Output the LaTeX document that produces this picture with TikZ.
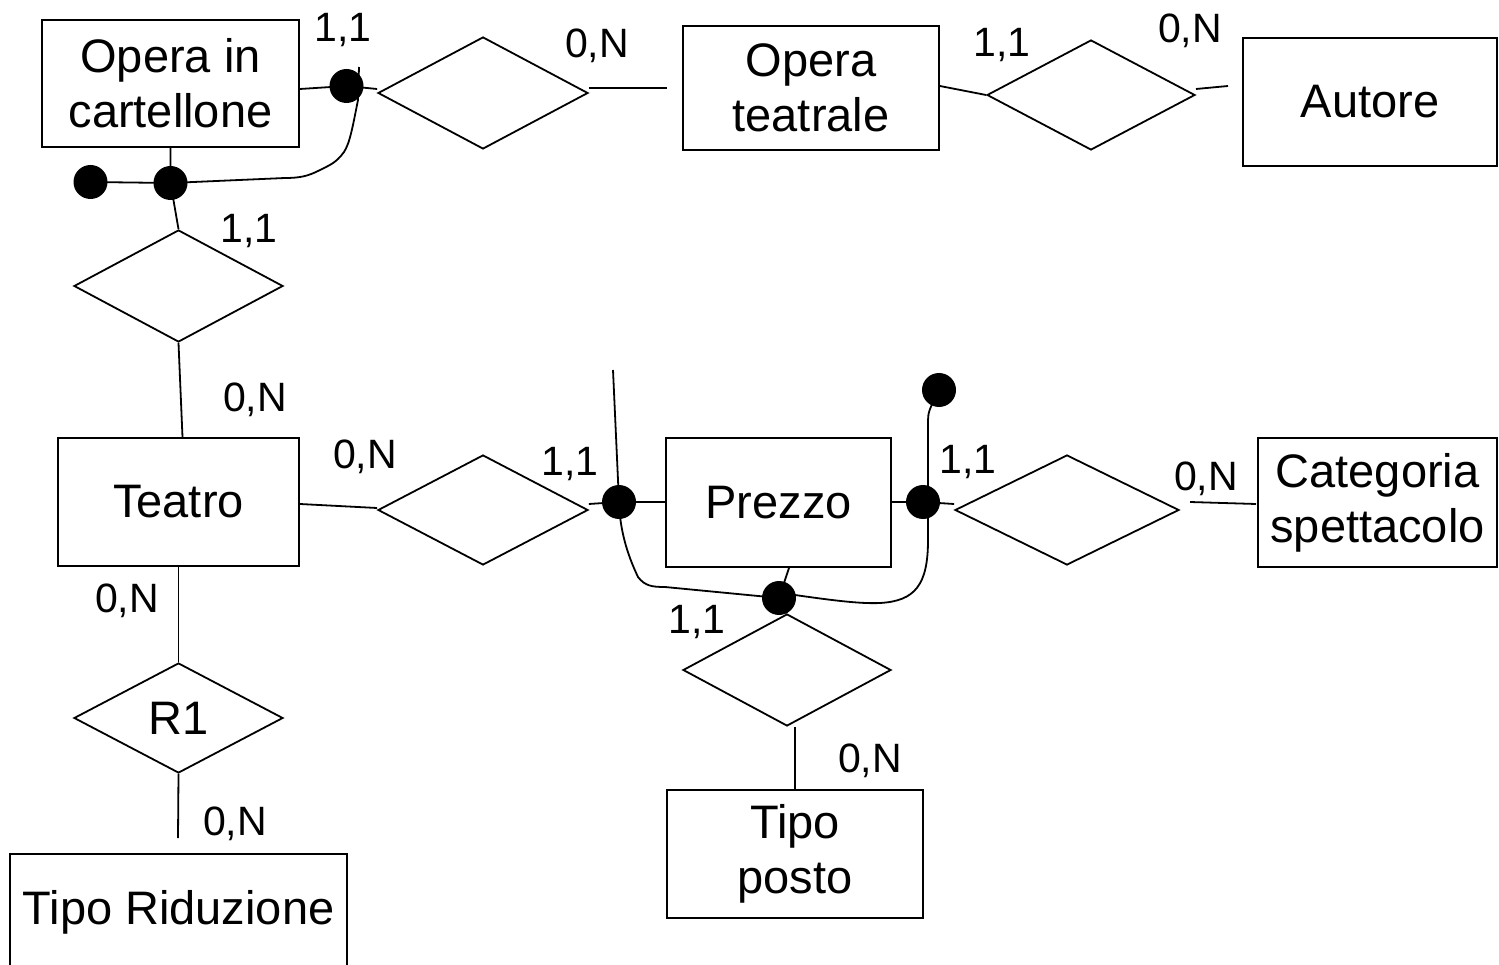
\documentclass[tikz,border=0pt]{standalone}
\usepackage{fontspec}
\setmainfont{Liberation Sans}
\usetikzlibrary{shapes.geometric}
\begin{document}
\begin{tikzpicture}[x=1pt,y=-1pt,
 ent/.style={draw, line width=1.8pt, inner sep=0pt, align=center, font=\fontsize{47}{55}\selectfont},
 rel/.style={draw, diamond, line width=1.8pt, inner sep=0pt, font=\fontsize{47}{55}\selectfont},
 card/.style={inner sep=0pt, anchor=base, font=\fontsize{41}{41}\selectfont},
 dot/.style={circle, fill=black, inner sep=0pt, minimum size=34pt},
 conn/.style={line width=1.8pt}]
\useasboundingbox (0,0) rectangle (1499,965);

% entities
\node[ent, minimum width=257pt, minimum height=127pt] (oic) at (170.5,83.5) {Opera in\\cartellone};
\node[ent, minimum width=256pt, minimum height=124pt] (ot) at (811,88) {Opera\\teatrale};
\node[ent, minimum width=254pt, minimum height=128pt] (aut) at (1370,102) {Autore};
\node[ent, minimum width=241pt, minimum height=128pt] (teatro) at (178.5,502) {Teatro};
\node[ent, minimum width=225pt, minimum height=129pt] (prezzo) at (778.5,502.5) {Prezzo};
\node[ent, minimum width=239pt, minimum height=129pt] (cat) at (1377.5,502.5) {Categoria\\spettacolo};
\node[ent, minimum width=256pt, minimum height=128pt] (tp) at (795,854) {Tipo\\posto};
\node[ent, minimum width=337pt, minimum height=116pt] (tr) at (178.5,912) {Tipo Riduzione};

% relationships
\node[rel, minimum width=210pt, minimum height=112pt] (d1) at (483,93) {};
\node[rel, minimum width=208pt, minimum height=110pt] (d2) at (1091,95) {};
\node[rel, minimum width=209pt, minimum height=112pt] (d3) at (178.5,286) {};
\node[rel, minimum width=210pt, minimum height=110pt] (d4) at (483,510) {};
\node[rel, minimum width=224pt, minimum height=110pt] (d5) at (1067,510) {};
\node[rel, minimum width=208pt, minimum height=112pt] (d6) at (787,670) {};
\node[rel, minimum width=209pt, minimum height=110pt] (r1) at (178.5,718) {R1};

% identifier dots
\node[dot] (dA) at (346.5,86) {};
\node[dot] (dB) at (170.5,183) {};
\node[dot] (dC) at (90.5,182) {};
\node[dot] (dD) at (619,502) {};
\node[dot] (dE) at (779,598) {};
\node[dot] (dF) at (923,502) {};
\node[dot] (dG) at (939,390) {};

% free ends
\coordinate (tk) at (359,67);
\coordinate (otL) at (667,88);
\coordinate (autL) at (1228,86);
\coordinate (d2R) at (1196,89);
\coordinate (d5R) at (1190,502);
\coordinate (catL) at (1256,504);
\coordinate (vtop) at (613,370);
\coordinate (r1end) at (178,838);

% connectors
\draw[conn] (oic.east |- 0,89) -- (dA.center) -- (d1.west |- 0,89);
\draw[conn] (d1.east |- 0,88) -- (otL);
\draw[conn] (ot.east |- 0,86) -- (d2.west);
\draw[conn] (d2R) -- (autL);
\draw[conn] (oic.south -| dB) -- (dB.center) -- (d3.north);
\draw[conn] (dC.center) -- (dB.center);
\draw[conn] (tk) -- (358,100) .. controls (353,125) and (350,143) .. (344,152)
  .. controls (336,163) and (330,165) .. (318,171) .. controls (308,176) and (300,178) .. (285,178)
  -- (dB.center);
\draw[conn] (d3.south) -- ([xshift=4pt]teatro.north);
\draw[conn] (teatro.east |- 0,504) -- (d4.west |- 0,508);
\draw[conn] (d4.east |- 0,504) -- (dD.center) -- (prezzo.west |- dD);
\draw[conn] (vtop) -- (dD.center);
\draw[conn] (prezzo.east |- dF) -- (dF.center) -- (d5.west |- 0,504);
\draw[conn] (d5R) -- (catL);
\draw[conn] (dF.center) -- (928,490) -- (928,420) .. controls (928,412) and (930,408) .. (dG.center);
\draw[conn] (dD.center) .. controls (620,535) and (630,560) .. (638,577)
  .. controls (645,586) and (652,587) .. (665,587) -- (dE.center)
  -- (795,595) .. controls (830,600) and (860,604) .. (880,603)
  .. controls (915,601) and (928,585) .. (928,540) -- (928,515) -- (dF.center);
\draw[conn] (prezzo.south -| 789,0) -- (dE.center) -- (d6.north);
\draw[conn] (d6.south -| tp.north) -- (tp.north);
\draw[conn] (teatro.south) -- (r1.north);
\draw[conn] (r1.south) -- (r1end);

% cardinalities
\node[card] (c1) at (343,42) {1,1};
\node[card] (c2) at (597,58) {0,N};
\node[card] (c3) at (1002,57) {1,1};
\node[card] (c4) at (1190,43) {0,N};
\node[card] (c5) at (249,243) {1,1};
\node[card] (c6) at (255,411) {0,N};
\node[card] (c7) at (365,468) {0,N};
\node[card] (c8) at (570,475) {1,1};
\node[card] (c9) at (968,473) {1,1};
\node[card] (c10) at (1206,490) {0,N};
\node[card] (c11) at (127,612) {0,N};
\node[card] (c12) at (235,835) {0,N};
\node[card] (c13) at (697,633) {1,1};
\node[card] (c14) at (870,772) {0,N};
\end{tikzpicture}
\end{document}
